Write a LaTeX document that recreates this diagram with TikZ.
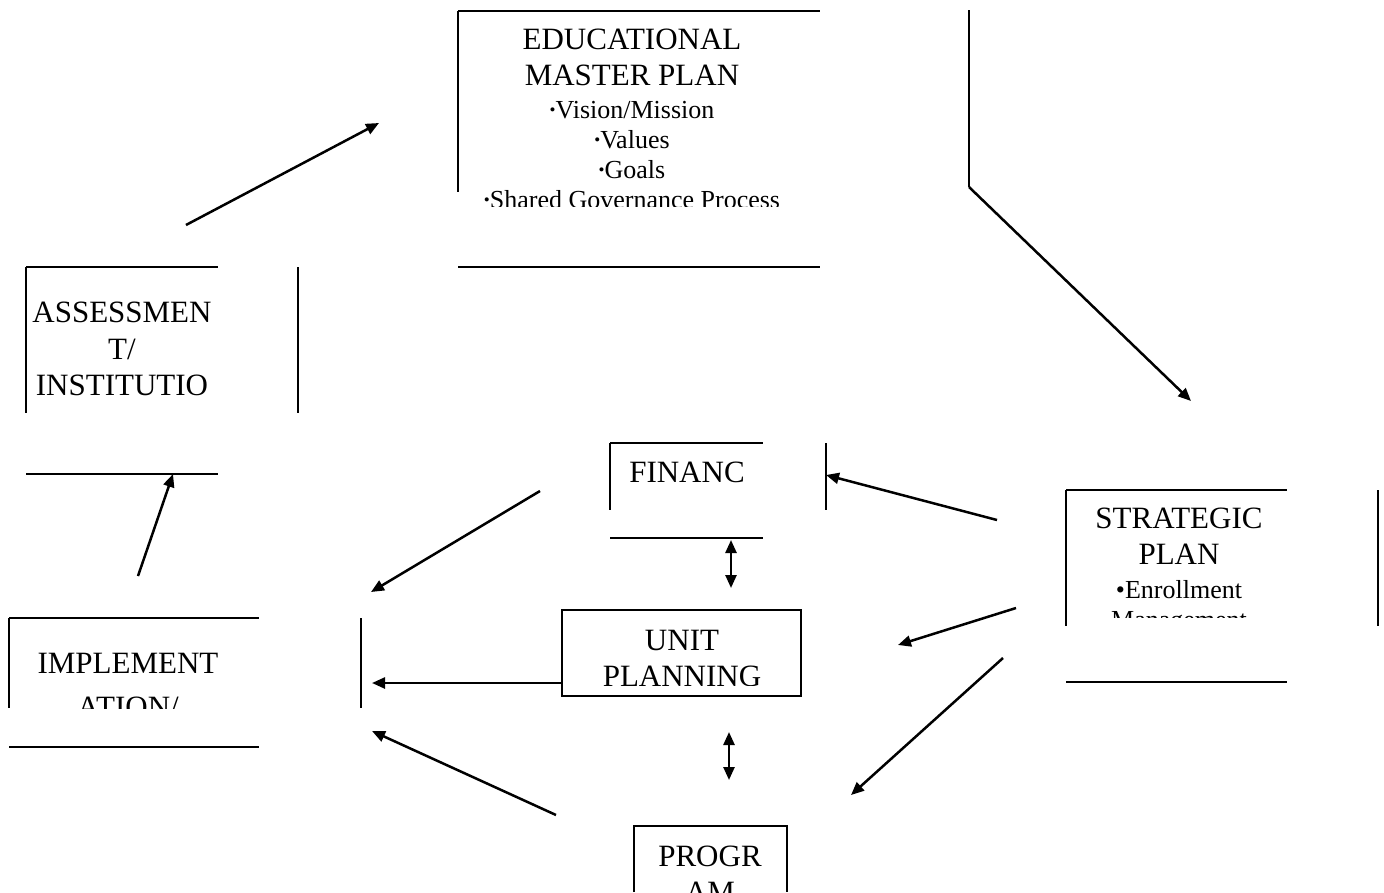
\documentclass[tikz,border=0pt]{standalone}
\usepackage{fontspec}
\setmainfont{Liberation Serif}
\usepackage{tikz}
\usetikzlibrary{arrows.meta}

\newcommand{\itemfont}{\fontsize{26}{30}\selectfont}
\newcommand{\smallbullet}{\raisebox{2.5pt}{\fontsize{17}{17}\selectfont\textbullet}}

\begin{document}
\begin{tikzpicture}[
    x=1pt, y=-1pt,
    boxtext/.style={font=\fontsize{31}{36}\selectfont, align=center, inner sep=0pt, anchor=base},
    edge/.style={line width=2.5pt},
    thinedge/.style={line width=1.8pt},
    arrow/.style={-{Triangle[length=13pt,width=11pt]}, line width=2.5pt},
    darrow/.style={{Triangle[length=13pt,width=11pt]}-{Triangle[length=13pt,width=11pt]}, line width=2.5pt},
]
\useasboundingbox (0,0) rectangle (1384,892);

% ── Educational master plan ──
\begin{scope}
  \clip (440,0) rectangle (900,206);
  \node[boxtext] (emp) at (632,208) {EDUCATIONAL\\MASTER PLAN\\[-3pt]
    \itemfont\smallbullet Vision/Mission\\[-6pt]\itemfont\smallbullet Values\\[-6pt]
    \itemfont\smallbullet Goals\\[-6pt]\itemfont\smallbullet Shared Governance Process};
\end{scope}
\draw[edge] (458,11) -- (820,11);
\draw[edge] (458,11) -- (458,192);
\draw[edge] (458,267) -- (820,267);
\coordinate (emp-corner) at (969,187);
\draw[edge] (969,10) -- (emp-corner);

% ── Assessment ──
\node[boxtext] (assess) at (122,395) {ASSESSMEN\\[1pt]T/\\INSTITUTIO};
\draw[edge] (26,267) -- (218,267);
\draw[edge] (26,267) -- (26,413);
\draw[edge] (298,267) -- (298,413);
\draw[edge] (26,474) -- (218,474);

% ── Finance ──
\node[boxtext] (fin) at (687,482) {FINANC};
\draw[edge] (610,443) -- (763,443);
\draw[edge] (610,443) -- (610,510);
\draw[edge] (826,443) -- (826,510);
\draw[thinedge] (610,538) -- (763,538);

% ── Implementation ──
\begin{scope}
  \clip (0,600) rectangle (300,708);
  \node[boxtext] (impl) at (128,717) {IMPLEMENT\\[8pt]ATION/};
\end{scope}
\draw[edge] (9,618) -- (259,618);
\draw[edge] (9,618) -- (9,708);
\draw[edge] (361,618) -- (361,708);
\draw[edge] (9,747) -- (259,747);

% ── Unit planning ──
\begin{scope}
  \clip (562,600) rectangle (801,685);
  \node[boxtext] (unit) at (682,686) {UNIT\\PLANNING};
\end{scope}
\draw[thinedge] (562,610) rectangle (801,696);

% ── Strategic plan ──
\begin{scope}
  \clip (1060,480) rectangle (1300,617);
  \node[boxtext] (strat) at (1179,628) {STRATEGIC\\PLAN\\[-2pt]
    \itemfont\textbullet Enrollment\\[-6pt]\itemfont Management};
\end{scope}
\draw[edge] (1066,490) -- (1287,490);
\draw[edge] (1066,490) -- (1066,626);
\draw[edge] (1378,490) -- (1378,626);
\draw[edge] (1066,682) -- (1287,682);

% ── Program ──
\begin{scope}
  \clip (634,820) rectangle (787,892);
  \node[boxtext] (prog) at (710,902) {PROGR\\AM};
\end{scope}
\draw[thinedge] (634,892) -- (634,826) -- (787,826) -- (787,892);

% ── Arrow ends ──
\coordinate (assess-out) at (186,225);
\coordinate (emp-in) at (379,123);
\coordinate (strat-in) at (1191,401);
\coordinate (strat-fin) at (997,520);
\coordinate (fin-in) at (826,475);
\coordinate (fin-out) at (540,491);
\coordinate (impl-in1) at (371,592);
\coordinate (impl-out) at (138,576);
\coordinate (assess-in) at (173,474);
\coordinate (unit-out) at (562,683);
\coordinate (impl-in2) at (372,683);
\coordinate (strat-unit) at (1016,608);
\coordinate (unit-in) at (898,645);
\coordinate (strat-prog) at (1003,658);
\coordinate (prog-in) at (851,795);
\coordinate (prog-out) at (556,815);
\coordinate (impl-in3) at (372,731);
\coordinate (fin-bot) at (731,540);
\coordinate (unit-top) at (731,588);
\coordinate (unit-bot) at (729,732);
\coordinate (prog-top) at (729,780);

% ── Arrows ──
\draw[arrow] (assess-out) -- (emp-in);
\draw[arrow] (emp-corner) -- (strat-in);
\draw[arrow] (strat-fin) -- (fin-in);
\draw[arrow] (fin-out) -- (impl-in1);
\draw[arrow] (impl-out) -- (assess-in);
\draw[arrow] (unit-out) -- (impl-in2);
\draw[arrow] (strat-unit) -- (unit-in);
\draw[arrow] (strat-prog) -- (prog-in);
\draw[arrow] (prog-out) -- (impl-in3);
\draw[darrow] (fin-bot) -- (unit-top);
\draw[darrow] (unit-bot) -- (prog-top);

\end{tikzpicture}
\end{document}
